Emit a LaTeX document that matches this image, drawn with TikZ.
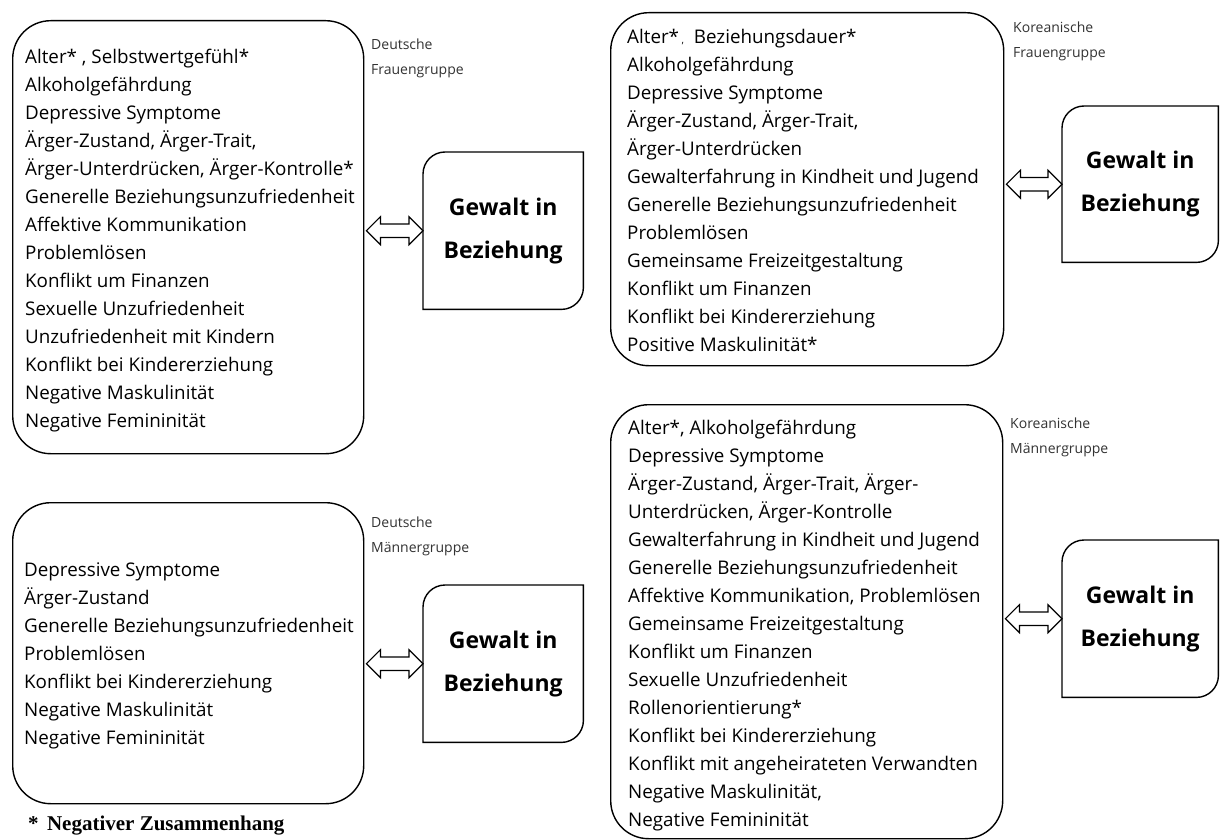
\documentclass[tikz,border=0pt]{standalone}
\usepackage{fontspec}
\setmainfont{Open Sans}
\newfontfamily\notefont{Liberation Serif}
\usetikzlibrary{calc}

% hollow two-headed arrow between two points on one height
\newcommand{\twowayarrow}[2]{%
  \draw[twoway] let \p1=(#1), \p2=(#2) in
    (\x1,\y1) -- (\x1+14pt,\y1+14pt) -- (\x1+14pt,\y1+6.7pt)
    -- (\x2-14pt,\y1+6.7pt) -- (\x2-14pt,\y1+14pt) -- (\x2,\y1)
    -- (\x2-14pt,\y1-14pt) -- (\x2-14pt,\y1-6.7pt)
    -- (\x1+14pt,\y1-6.7pt) -- (\x1+14pt,\y1-14pt) -- cycle;}

% outline with rounded top-left and bottom-right corners only
\newcommand{\leafoutline}[1]{%
  \draw[leaf] (#1.south west) -- ([yshift=-22pt]#1.north west)
    arc[start angle=180,end angle=90,radius=22pt] -- (#1.north east)
    -- ([yshift=22pt]#1.south east)
    arc[start angle=0,end angle=-90,radius=22pt] -- cycle;}

\tikzset{
  listbox/.style={draw, line width=1.4pt, rounded corners=38pt, inner sep=0pt, anchor=north west},
  listtext/.style={anchor=north west, inner sep=0pt, align=left,
    font=\fontsize{18.8pt}{28pt}\selectfont},
  grouplabel/.style={anchor=north west, inner sep=0pt, align=left, text=black!80,
    font=\fontsize{14pt}{25pt}\selectfont},
  outcome/.style={anchor=north west, inner sep=0pt, align=center,
    font=\bfseries\fontsize{23pt}{43pt}\selectfont},
  leaf/.style={line width=1.4pt},
  twoway/.style={line width=1.2pt, line join=miter, fill=white},
}

\begin{document}
\begin{tikzpicture}[x=1pt,y=-1pt]
\useasboundingbox (0,0) rectangle (1220,840);
\fill[white] (0,0) rectangle (1220,840);

% ---- German women ----
\node[listbox, minimum width=351pt, minimum height=433pt] (df) at (12,20) {};
\node[listtext] (dftext) at (25,43.4) {\strut Alter* , Selbstwertgefühl*\\
Alkoholgefährdung\\
Depressive Symptome\\
Ärger-Zustand, Ärger-Trait,\\
Ärger-Unterdrücken, Ärger-Kontrolle*\\
Generelle Beziehungsunzufriedenheit\\
Affektive Kommunikation\\
Problemlösen\\
Konflikt um Finanzen\\
Sexuelle Unzufriedenheit\\
Unzufriedenheit mit Kindern\\
Konflikt bei Kindererziehung\\
Negative Maskulinität\\
Negative Femininität};
\node[grouplabel] (dflabel) at (371,31.5) {\strut Deutsche\\Frauengruppe};
\node[outcome, minimum width=160pt, minimum height=157pt] (gdf) at (423,152) {Gewalt in\\Beziehung};
\leafoutline{gdf}
\twowayarrow{$(df.east |- gdf.west)+(2pt,0)$}{gdf.west}

% ---- Korean women ----
\node[listbox, minimum width=393pt, minimum height=353pt] (kf) at (610,12) {};
\node[listtext] (kftext) at (627,23.4) {\strut Alter*{\fontsize{10pt}{10pt}\selectfont\ ,}\ \ Beziehungsdauer*\\
Alkoholgefährdung\\
Depressive Symptome\\
Ärger-Zustand, Ärger-Trait,\\
Ärger-Unterdrücken\\
Gewalterfahrung in Kindheit und Jugend\\
Generelle Beziehungsunzufriedenheit\\
Problemlösen\\
Gemeinsame Freizeitgestaltung\\
Konflikt um Finanzen\\
Konflikt bei Kindererziehung\\
Positive Maskulinität*};
\node[grouplabel] (kflabel) at (1013,14.5) {\strut Koreanische\\Frauengruppe};
\node[outcome, minimum width=156pt, minimum height=156pt] (gkf) at (1062,106) {Gewalt in\\Beziehung};
\leafoutline{gkf}
\twowayarrow{$(kf.east |- gkf.west)+(2pt,0)$}{gkf.west}

% ---- German men ----
\node[listbox, minimum width=351pt, minimum height=301pt] (dm) at (12,502) {};
\node[listtext] (dmtext) at (24,556.4) {\strut Depressive Symptome\\
Ärger-Zustand\\
Generelle Beziehungsunzufriedenheit\\
Problemlösen\\
Konflikt bei Kindererziehung\\
Negative Maskulinität\\
Negative Femininität};
\node[grouplabel] (dmlabel) at (371,509.5) {\strut Deutsche\\Männergruppe};
\node[outcome, minimum width=160pt, minimum height=157pt] (gdm) at (423,585) {Gewalt in\\Beziehung};
\leafoutline{gdm}
\twowayarrow{$(dm.east |- gdm.west)+(2pt,0)$}{gdm.west}

% ---- Korean men ----
\node[listbox, minimum width=392pt, minimum height=434pt] (km) at (610,404) {};
\node[listtext] (kmtext) at (628,414.4) {\strut Alter*, Alkoholgefährdung\\
Depressive Symptome\\
Ärger-Zustand, Ärger-Trait, Ärger-\\
Unterdrücken, Ärger-Kontrolle\\
Gewalterfahrung in Kindheit und Jugend\\
Generelle Beziehungsunzufriedenheit\\
Affektive Kommunikation, Problemlösen\\
Gemeinsame Freizeitgestaltung\\
Konflikt um Finanzen\\
Sexuelle Unzufriedenheit\\
Rollenorientierung*\\
Konflikt bei Kindererziehung\\
Konflikt mit angeheirateten Verwandten\\
Negative Maskulinität,\\
Negative Femininität};
\node[grouplabel] (kmlabel) at (1010,410.5) {\strut Koreanische\\Männergruppe};
\node[outcome, minimum width=156pt, minimum height=157pt] (gkm) at (1062,540) {Gewalt in\\Beziehung};
\leafoutline{gkm}
\twowayarrow{$(km.east |- gkm.west)+(2pt,0)$}{gkm.west}

% ---- footnote ----
\node[anchor=base west, inner sep=0pt, font=\notefont\bfseries\fontsize{21pt}{24pt}\selectfont] (note) at (28,830)
  {*\hspace{0.4em}Negativer Zusammenhang};
\end{tikzpicture}
\end{document}
